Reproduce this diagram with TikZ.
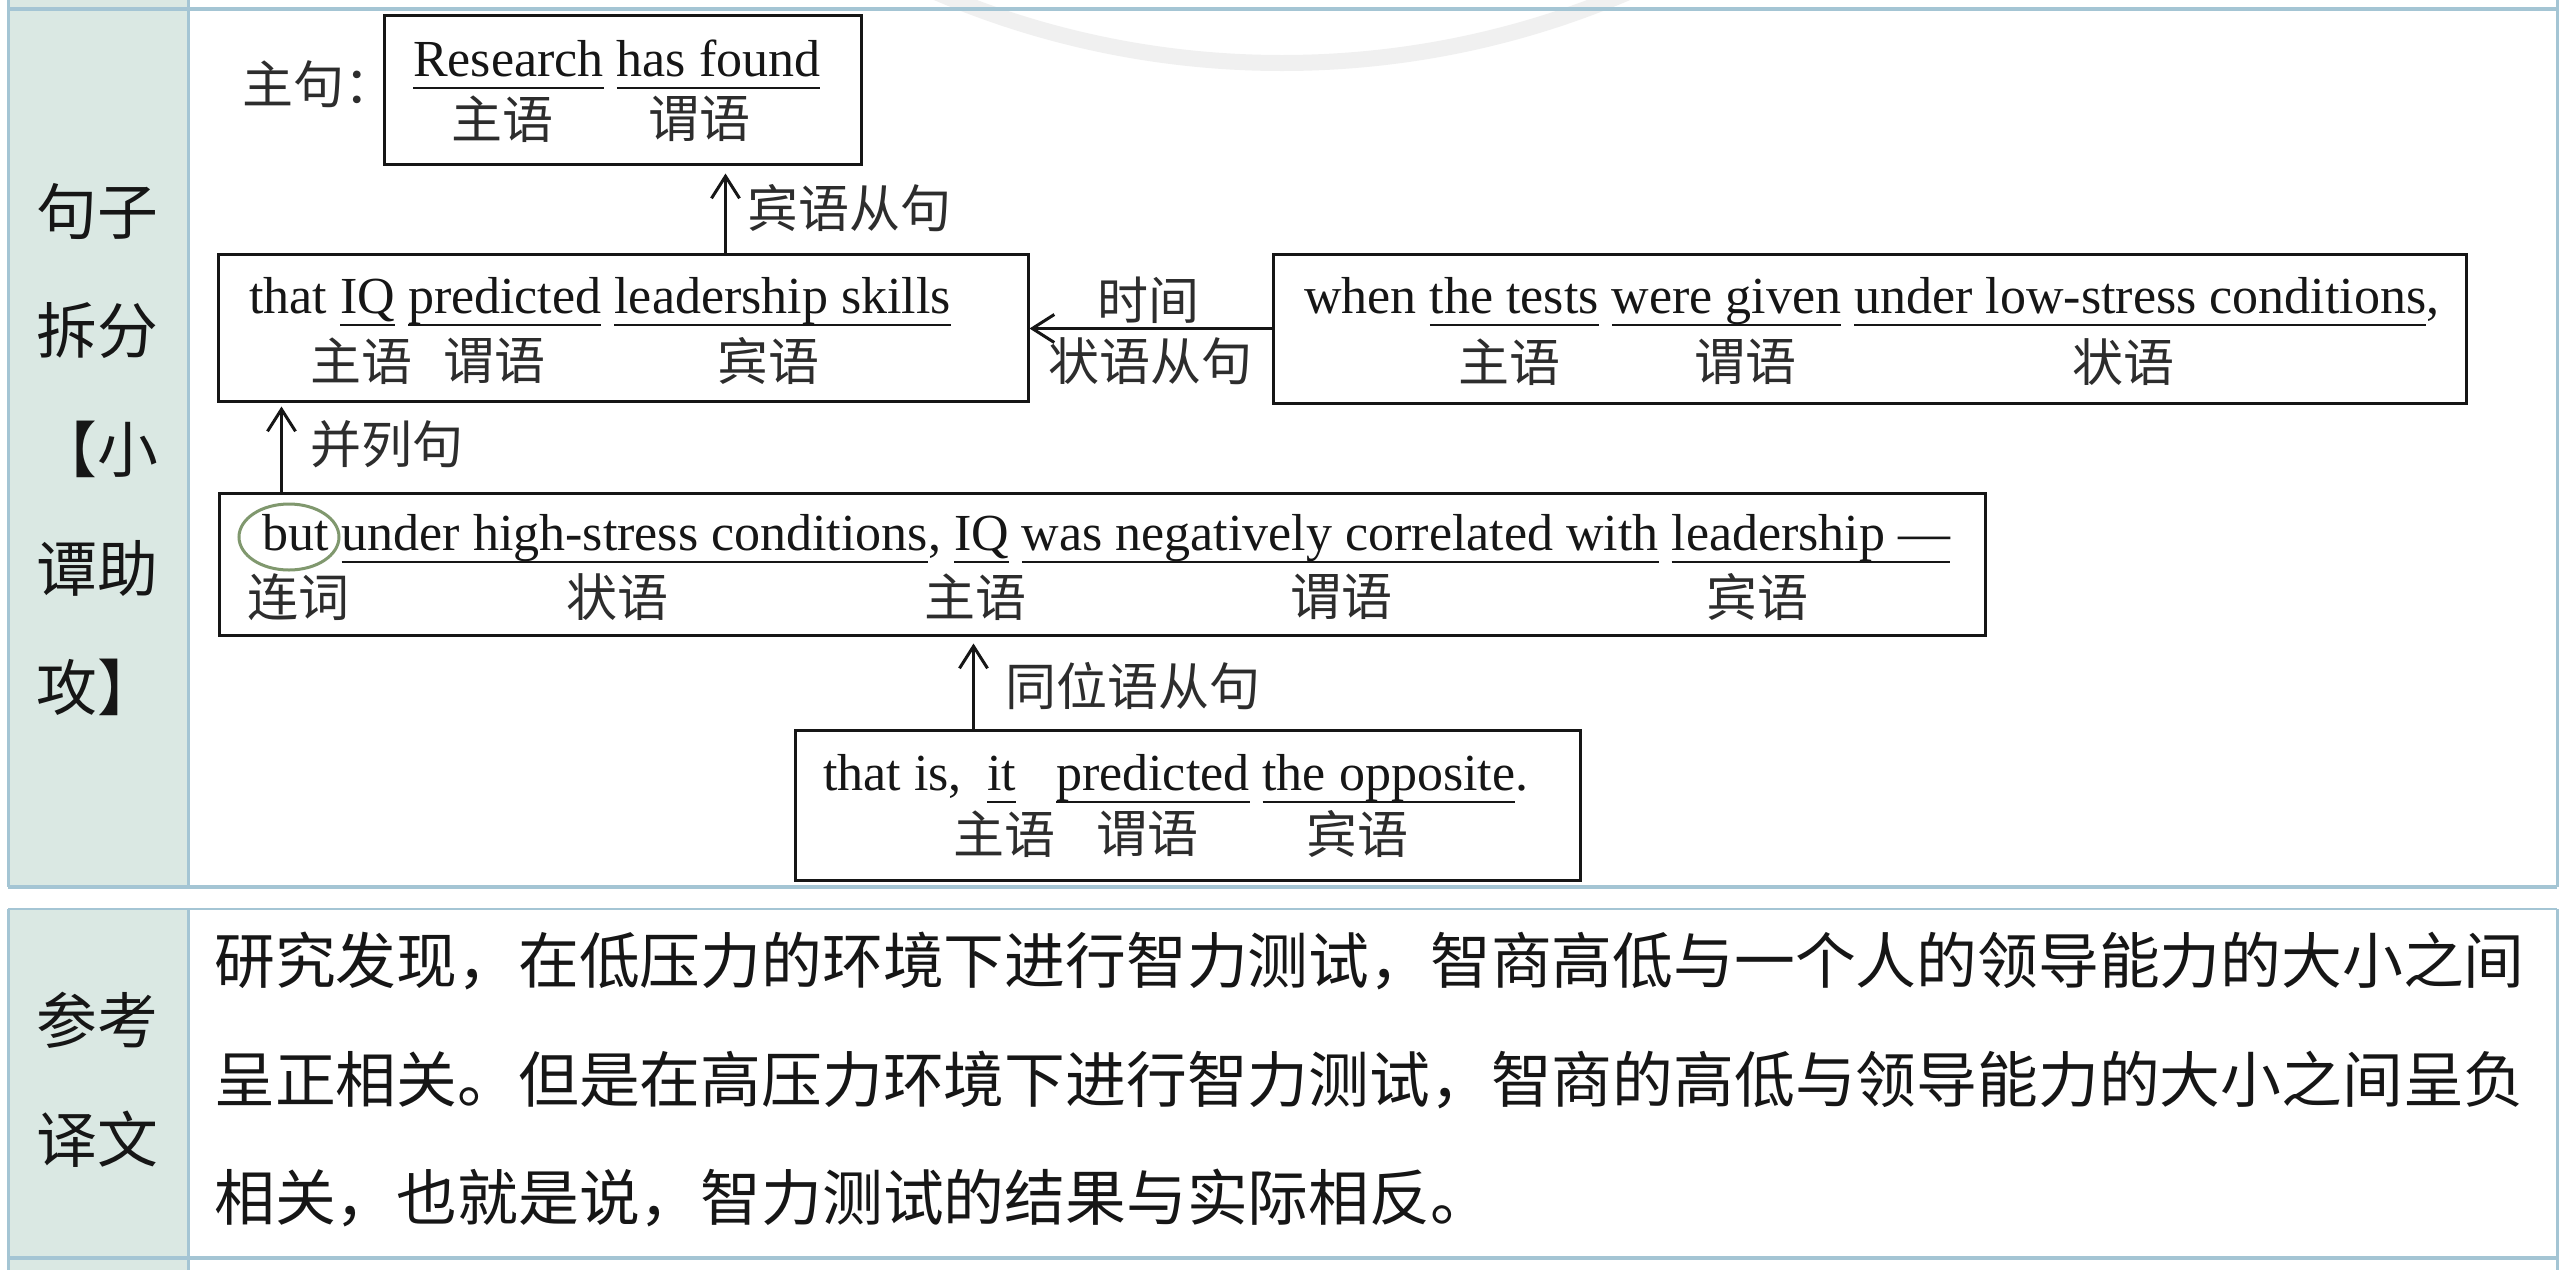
\documentclass[tikz,border=0pt]{standalone}
\usepackage{fontspec}
\setmainfont{Liberation Serif}
\newfontfamily\cjk{Noto Sans CJK SC}
\usetikzlibrary{arrows.meta,shapes.geometric}
\definecolor{teal1}{RGB}{218,232,227}
\definecolor{bord}{RGB}{164,197,212}
\definecolor{ink}{RGB}{22,22,22}
\definecolor{lab}{RGB}{45,45,45}
\definecolor{circ}{RGB}{128,152,110}
\newsavebox\ulbox
\newcommand\ulseg[1]{\sbox\ulbox{#1}\rlap{\rule[-13.3pt]{\wd\ulbox}{2.8pt}}\usebox\ulbox}
\tikzset{
  sbox/.style={draw=ink, line width=3pt, inner sep=0pt},
  en/.style={font=\fontsize{52}{60}\selectfont, anchor=base west, inner sep=0pt, text=ink},
  lbl/.style={font=\cjk\fontsize{51}{60}\selectfont, inner sep=0pt, text=lab},
  big/.style={font=\cjk\fontsize{60.8}{119}\selectfont, inner sep=0pt, text=ink},
  arr/.style={line width=3pt, draw=ink, -{Straight Barb[length=22pt,width=28pt,line width=3pt]}},
  bline/.style={draw=bord, line width=3pt}
}
\begin{document}
\begin{tikzpicture}[x=1pt,y=-1pt]
\useasboundingbox (0,0) rectangle (2560,1270);
\fill[white] (0,0) rectangle (2560,1270);
% faint watermark arc
\begin{scope}
\clip (0,0) rectangle (2560,120);
\draw[line width=16pt, black!6] (1282,-815) circle[radius=878];
\end{scope}
% table background
\fill[teal1] (8,0) rectangle (188,887);
\fill[teal1] (8,909) rectangle (188,1270);
\draw[bline, line width=4pt] (8,9) -- (2557,9);
\draw[bline, line width=4pt] (8,887) -- (2557,887);
\draw[bline, line width=2.5pt] (8,909) -- (2557,909);
\draw[bline, line width=4pt] (8,1258) -- (2557,1258);
\draw[bline] (8,0) -- (8,887);
\draw[bline] (188,0) -- (188,887);
\draw[bline] (2557,0) -- (2557,887);
\draw[bline] (8,909) -- (8,1270);
\draw[bline] (188,909) -- (188,1270);
\draw[bline] (2557,909) -- (2557,1270);
% left column labels
\node[big, align=center] (side1) at (97,449.5) {句子\\拆分\\【小\\谭助\\攻】};
\node[big, align=center] (side2) at (97,1080) {参考\\译文};
% boxes
\node[sbox, minimum width=477pt, minimum height=149pt] (b1) at (622.5,89.5) {};
\node[sbox, minimum width=810pt, minimum height=147pt] (b2) at (623,327.5) {};
\node[sbox, minimum width=1193pt, minimum height=149pt] (b3) at (1869.5,328.5) {};
\node[sbox, minimum width=1766pt, minimum height=142pt] (b4) at (1102,564) {};
\node[sbox, minimum width=785pt, minimum height=150pt] (b5) at (1187.5,805) {};
% box 1
\node[lbl, anchor=west] (zj) at (242,84) {主句：};
\node[en] (t1) at (413,76) {\ulseg{Research} \ulseg{has found}};
\node[lbl] (l11) at (502,119) {主语};
\node[lbl] (l12) at (699,119) {谓语};
% box 2
\node[en] (t2) at (249,313) {that \ulseg{IQ} \ulseg{predicted} \ulseg{leadership skills}};
\node[lbl] (l21) at (361,361) {主语};
\node[lbl] (l22) at (494,361) {谓语};
\node[lbl] (l23) at (768,361) {宾语};
% box 3
\node[en] (t3) at (1304,313) {when \ulseg{the tests} \ulseg{were given} \ulseg{under low-stress conditions},};
\node[lbl] (l31) at (1509,362) {主语};
\node[lbl] (l32) at (1745,362) {谓语};
\node[lbl] (l33) at (2123,362) {状语};
% box 4
\node[en] (t4) at (262,550) {but \ulseg{under high-stress conditions}, \ulseg{IQ} \ulseg{was negatively correlated with} \ulseg{leadership —}};
\node[draw=circ, line width=3pt, ellipse, minimum width=100pt, minimum height=66pt, inner sep=0pt] (butc) at (289,537) {};
\node[lbl] (l41) at (298,597) {连词};
\node[lbl] (l42) at (617,597) {状语};
\node[lbl] (l43) at (975,597) {主语};
\node[lbl] (l44) at (1341,597) {谓语};
\node[lbl] (l45) at (1757,597) {宾语};
% box 5
\node[en] (t5) at (823,790) {that is,\hspace{25.3pt}\ulseg{it}\hspace{40pt}\ulseg{predicted} \ulseg{the opposite}.};
\node[lbl] (l51) at (1004,834) {主语};
\node[lbl] (l52) at (1147,834) {谓语};
\node[lbl] (l53) at (1357,834) {宾语};
% connectors
\coordinate (a1) at ([xshift=509pt]b2.north west);
\draw[arr, shorten >=8pt] (a1) -- (a1 |- b1.south);
\node[lbl, anchor=west] (c1) at (747,208) {宾语从句};
\draw[arr] (b3.west) -- (b3.west -| b2.east);
\node[lbl] (c2a) at (1148,300) {时间};
\node[lbl] (c2b) at (1150,361) {状语从句};
\coordinate (a3) at ([xshift=64pt]b4.north west);
\draw[arr, shorten >=4pt] (a3) -- (a3 |- b2.south);
\node[lbl, anchor=west] (c3) at (310,444) {并列句};
\coordinate (a4) at ([xshift=180pt]b5.north west);
\draw[arr, shorten >=7pt] (a4) -- (a4 |- b4.south);
\node[lbl, anchor=west] (c4) at (1005,686) {同位语从句};
% translation
\node[big, anchor=base west] (tr1) at (214,983.5) {研究发现，在低压力的环境下进行智力测试，智商高低与一个人的领导能力的大小之间};
\node[big, anchor=base west] (tr2) at (214,1102.5) {呈正相关。但是在高压力环境下进行智力测试，智商的高低与领导能力的大小之间呈负};
\node[big, anchor=base west] (tr3) at (214,1220.5) {相关，也就是说，智力测试的结果与实际相反。};
\end{tikzpicture}
\end{document}
